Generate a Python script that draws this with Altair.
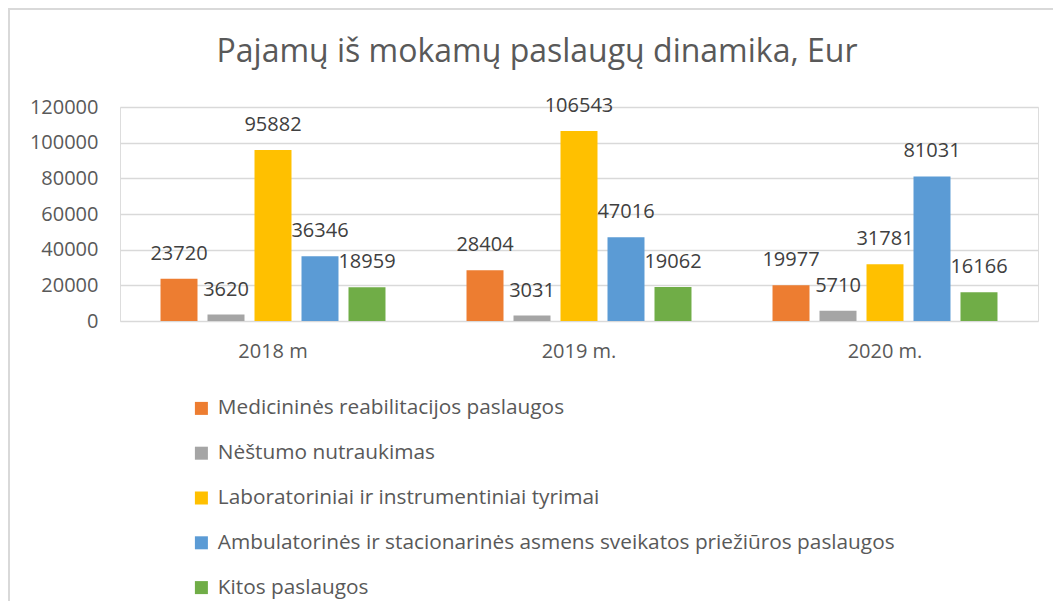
import altair as alt
import pandas as pd

years = ["2018 m", "2019 m.", "2020 m."]
series = [
    "Medicininės reabilitacijos paslaugos",
    "Nėštumo nutraukimas",
    "Laboratoriniai ir instrumentiniai tyrimai",
    "Ambulatorinės ir stacionarinės asmens sveikatos priežiūros paslaugos",
    "Kitos paslaugos",
]
med_reab = [23720, 28404, 19977]
nestumo = [3620, 3031, 5710]
laborat = [95882, 106543, 31781]
ambulat = [36346, 47016, 81031]
kitos = [18959, 19062, 16166]
colors = ["#ED7D31", "#A5A5A5", "#FFC000", "#5B9BD5", "#70AD47"]
y_ticks = [0, 20000, 40000, 60000, 80000, 100000, 120000]

rows = []
for s, vals in zip(series, [med_reab, nestumo, laborat, ambulat, kitos]):
    for yr, v in zip(years, vals):
        rows.append({"Metai": yr, "Serija": s, "Reikšmė": v})
df = pd.DataFrame(rows)

FONT = "Open Sans"
TXT = "#595959"

x_enc = alt.X("Metai:N", sort=years, scale=alt.Scale(paddingInner=0, paddingOuter=0),
              axis=alt.Axis(title=None, labelAngle=0, labelFontSize=20, labelFont=FONT,
                            labelColor=TXT, ticks=False, domain=False, labelPadding=20))
xoff = alt.XOffset("Serija:N", sort=series,
                   scale=alt.Scale(paddingInner=0.213, paddingOuter=0.862))
y_enc = alt.Y("Reikšmė:Q", scale=alt.Scale(domain=[0, 120000], nice=False),
              axis=alt.Axis(title=None, values=y_ticks, format="d", labelOverlap=False,
                            tickCount=7, labelFontSize=20, labelFont=FONT,
                            labelColor=TXT, ticks=False, domain=False, labelPadding=22,
                            gridColor="#D9D9D9", gridWidth=1.5))

bars = alt.Chart(df).mark_bar().encode(
    x=x_enc, xOffset=xoff, y=y_enc,
    color=alt.Color("Serija:N", sort=series,
                    scale=alt.Scale(domain=series, range=colors),
                    legend=alt.Legend(title=None, orient="none", legendX=71, legendY=291,
                                      direction="vertical", symbolType="square",
                                      symbolSize=169, symbolStrokeWidth=0,
                                      labelFont=FONT, labelFontSize=20.8, labelColor=TXT,
                                      labelOffset=6, rowPadding=22.8, padding=0,
                                      labelLimit=900)),
)

labels = alt.Chart(df).mark_text(baseline="middle", dy=-25, fontSize=20, font=FONT,
                                 color="#404040").encode(
    x=x_enc, xOffset=xoff, y=y_enc,
    text=alt.Text("Reikšmė:Q", format="d"),
)

frame_top = alt.Chart(df).mark_rule(color="#D9D9D9", strokeWidth=2).encode(
    x=alt.value(-112), x2=alt.value(1000), y=alt.value(-98))
frame_left = alt.Chart(df).mark_rule(color="#D9D9D9", strokeWidth=2).encode(
    x=alt.value(-111), y=alt.value(-99), y2=alt.value(600))

chart = alt.layer(frame_top, frame_left, bars, labels).properties(
    width=918, height=214,
    autosize=alt.AutoSizeParams(type="none"),
    padding={"left": 112, "top": 99, "right": 15, "bottom": 280},
    title=alt.TitleParams("Pajamų iš mokamų paslaugų dinamika, Eur", font=FONT,
                          fontSize=32, fontWeight="normal", color=TXT,
                          anchor="middle", dx=-42, offset=0, dy=62),
).configure_view(stroke=None).configure(background="white")

chart.save("out.html", embed_options={"renderer": "svg", "actions": False})
